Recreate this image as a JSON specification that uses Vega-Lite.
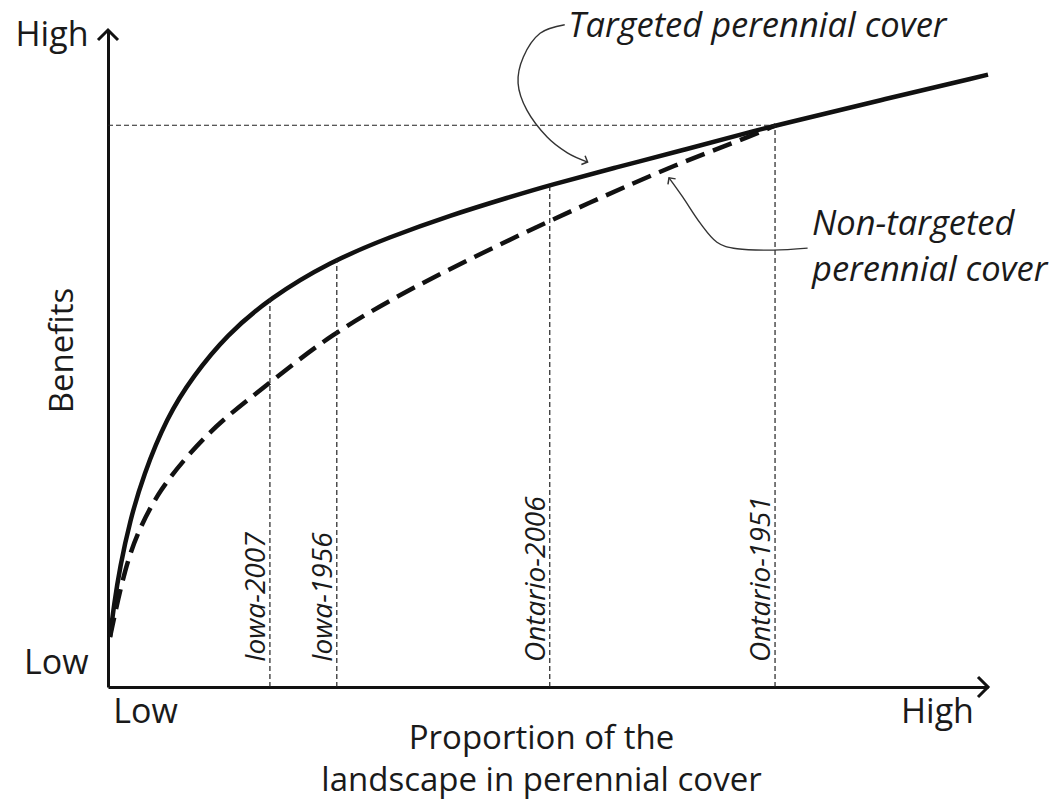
{
  "$schema": "https://vega.github.io/schema/vega-lite/v6.json",
  "autosize": "none",
  "width": 880,
  "height": 657,
  "padding": {"left": 108, "top": 30, "right": 67, "bottom": 113},
  "background": "white",
  "config": {"view": {"stroke": null}, "font": "Open Sans"},
  "datasets": {
    "targeted": [
      {"x": 0.23, "y": 7.6}, {"x": 0.68, "y": 12.5}, {"x": 1.36, "y": 18.3}, {"x": 2.5, "y": 25.3},
      {"x": 3.98, "y": 32.1}, {"x": 6.7, "y": 41.1}, {"x": 9.66, "y": 47.3}, {"x": 13.5, "y": 53.6},
      {"x": 18.4, "y": 59.2}, {"x": 25.2, "y": 64.7}, {"x": 32.0, "y": 68.5}, {"x": 38.9, "y": 71.8},
      {"x": 45.7, "y": 74.6}, {"x": 50.2, "y": 76.4}, {"x": 57.8, "y": 79.1}, {"x": 65.3, "y": 81.7},
      {"x": 73.0, "y": 84.5}, {"x": 76.0, "y": 85.5}, {"x": 87.7, "y": 89.3}, {"x": 100, "y": 93.2}
    ],
    "nontargeted": [
      {"x": 0.23, "y": 7.6}, {"x": 1.93, "y": 18.3}, {"x": 3.64, "y": 24.4}, {"x": 5.9, "y": 30.0},
      {"x": 9.0, "y": 35.2}, {"x": 12.7, "y": 40.4}, {"x": 18.4, "y": 46.3}, {"x": 25.2, "y": 53.6},
      {"x": 34.3, "y": 60.6}, {"x": 44.5, "y": 67.4}, {"x": 54.8, "y": 73.8}, {"x": 65.0, "y": 79.8},
      {"x": 71.5, "y": 83.0}, {"x": 75.9, "y": 85.5}
    ],
    "regions": [
      {"name": "Iowa-2007", "x": 18.4, "y": 0, "top": 59.2, "labely": 3.8},
      {"name": "Iowa-1956", "x": 26.0, "y": 0, "top": 65.1, "labely": 3.8},
      {"name": "Ontario-2006", "x": 50.2, "y": 0, "top": 76.4, "labely": 3.8},
      {"name": "Ontario-1951", "x": 75.8, "y": 0, "top": 85.5, "labely": 3.8}
    ],
    "level": [{"x": 0, "x2": 75.8, "y": 85.5}],
    "arrowT": [
      {"step": 1, "x": 51.9, "y": 100.8}, {"step": 2, "x": 49.1, "y": 99.5}, {"step": 3, "x": 47.2, "y": 95.9},
      {"step": 4, "x": 46.6, "y": 91.9}, {"step": 5, "x": 47.6, "y": 87.8}, {"step": 6, "x": 49.9, "y": 83.7},
      {"step": 7, "x": 52.2, "y": 81.3}, {"step": 8, "x": 54.5, "y": 79.9}
    ],
    "arrowN": [
      {"step": 1, "x": 79.5, "y": 66.8}, {"step": 2, "x": 75.6, "y": 66.5}, {"step": 3, "x": 71.5, "y": 66.7},
      {"step": 4, "x": 69.2, "y": 67.7}, {"step": 5, "x": 67.3, "y": 70.6}, {"step": 6, "x": 65.3, "y": 74.6},
      {"step": 7, "x": 63.75, "y": 77.5}
    ],
    "labels": [
      {"text": "Targeted perennial cover", "x": 52.3, "y": 98.9},
      {"text": "Non-targeted", "x": 80.0, "y": 68.8},
      {"text": "perennial cover", "x": 80.0, "y": 61.8}
    ],
    "xtip": [{"x": 100, "y": 0}],
    "ytip": [{"x": 0, "y": 100}]
  },
  "layer": [
    {
      "data": {"name": "targeted"},
      "mark": {"type": "line", "color": "#111", "strokeWidth": 4.5, "interpolate": "basis"},
      "encoding": {
        "x": {"field": "x", "type": "quantitative", "scale": {"domain": [0, 100], "nice": false},
          "axis": {"values": [4.2, 94.2], "labelExpr": "datum.value < 50 ? 'Low' : 'High'", "grid": false, "ticks": false,
            "domainColor": "#111", "domainWidth": 3, "labelFontSize": 34, "labelColor": "#1a1a1a", "labelPadding": 8, "labelFlush": false,
            "title": ["Proportion of the", "landscape in perennial cover"], "titleFontSize": 33, "titleFontWeight": "normal",
            "titleColor": "#1a1a1a", "titleX": 433, "titleY": 61, "titleBaseline": "alphabetic", "titleLineHeight": 42}},
        "y": {"field": "y", "type": "quantitative", "scale": {"domain": [0, 100], "nice": false},
          "axis": {"values": [3.6, 99.2], "labelExpr": "datum.value < 50 ? 'Low' : 'High'", "grid": false, "ticks": false,
            "domainColor": "#111", "domainWidth": 3, "labelFontSize": 34, "labelColor": "#1a1a1a", "labelPadding": 20, "labelFlush": false,
            "title": "Benefits", "titleFontSize": 33, "titleFontWeight": "normal", "titleColor": "#1a1a1a",
            "titleX": -36, "titleY": 320, "titleBaseline": "alphabetic", "titleAngle": -90}}
      }
    },
    {
      "data": {"name": "nontargeted"},
      "mark": {"type": "line", "color": "#111", "strokeWidth": 4.5, "interpolate": "basis", "strokeDash": [20, 9]},
      "encoding": {"x": {"field": "x", "type": "quantitative"}, "y": {"field": "y", "type": "quantitative"}}
    },
    {
      "data": {"name": "regions"},
      "mark": {"type": "rule", "color": "#222", "strokeWidth": 1.2, "strokeDash": [5, 3]},
      "encoding": {"x": {"field": "x", "type": "quantitative"}, "y": {"field": "y", "type": "quantitative"}, "y2": {"field": "top"}}
    },
    {
      "data": {"name": "regions"},
      "mark": {"type": "text", "angle": 270, "align": "left", "baseline": "alphabetic", "dy": -5, "fontSize": 28, "fontStyle": "italic", "color": "#1a1a1a"},
      "encoding": {"x": {"field": "x", "type": "quantitative"}, "y": {"field": "labely", "type": "quantitative"}, "text": {"field": "name"}}
    },
    {
      "data": {"name": "level"},
      "mark": {"type": "rule", "color": "#222", "strokeWidth": 1.2, "strokeDash": [5, 3]},
      "encoding": {"x": {"field": "x", "type": "quantitative"}, "x2": {"field": "x2"}, "y": {"field": "y", "type": "quantitative"}}
    },
    {
      "data": {"name": "arrowT"},
      "mark": {"type": "line", "color": "#333", "strokeWidth": 1.4, "interpolate": "cardinal"},
      "encoding": {"x": {"field": "x", "type": "quantitative"}, "y": {"field": "y", "type": "quantitative"}, "order": {"field": "step"}}
    },
    {
      "data": {"name": "arrowN"},
      "mark": {"type": "line", "color": "#333", "strokeWidth": 1.4, "interpolate": "cardinal"},
      "encoding": {"x": {"field": "x", "type": "quantitative"}, "y": {"field": "y", "type": "quantitative"}, "order": {"field": "step"}}
    },
    {
      "data": {"name": "arrowT"},
      "transform": [{"filter": "datum.step == 8"}],
      "mark": {"type": "point", "shape": "M-1,-1L0,0L-1,1", "filled": false, "color": "#333", "strokeWidth": 1.5, "size": 90, "angle": 23, "opacity": 1},
      "encoding": {"x": {"field": "x", "type": "quantitative"}, "y": {"field": "y", "type": "quantitative"}}
    },
    {
      "data": {"name": "arrowN"},
      "transform": [{"filter": "datum.step == 7"}],
      "mark": {"type": "point", "shape": "M-1,-1L0,0L-1,1", "filled": false, "color": "#333", "strokeWidth": 1.5, "size": 90, "angle": 234, "opacity": 1},
      "encoding": {"x": {"field": "x", "type": "quantitative"}, "y": {"field": "y", "type": "quantitative"}}
    },
    {
      "data": {"name": "xtip"},
      "mark": {"type": "point", "shape": "M-1,-1L0,0L-1,1", "filled": false, "color": "#111", "strokeWidth": 3, "size": 400, "angle": 0, "opacity": 1},
      "encoding": {"x": {"field": "x", "type": "quantitative"}, "y": {"field": "y", "type": "quantitative"}}
    },
    {
      "data": {"name": "ytip"},
      "mark": {"type": "point", "shape": "M-1,-1L0,0L-1,1", "filled": false, "color": "#111", "strokeWidth": 3, "size": 400, "angle": 270, "opacity": 1},
      "encoding": {"x": {"field": "x", "type": "quantitative"}, "y": {"field": "y", "type": "quantitative"}}
    },
    {
      "data": {"name": "labels"},
      "mark": {"type": "text", "align": "left", "baseline": "alphabetic", "fontSize": 34.5, "fontStyle": "italic", "color": "#1a1a1a"},
      "encoding": {"x": {"field": "x", "type": "quantitative"}, "y": {"field": "y", "type": "quantitative"}, "text": {"field": "text"}}
    }
  ]
}
